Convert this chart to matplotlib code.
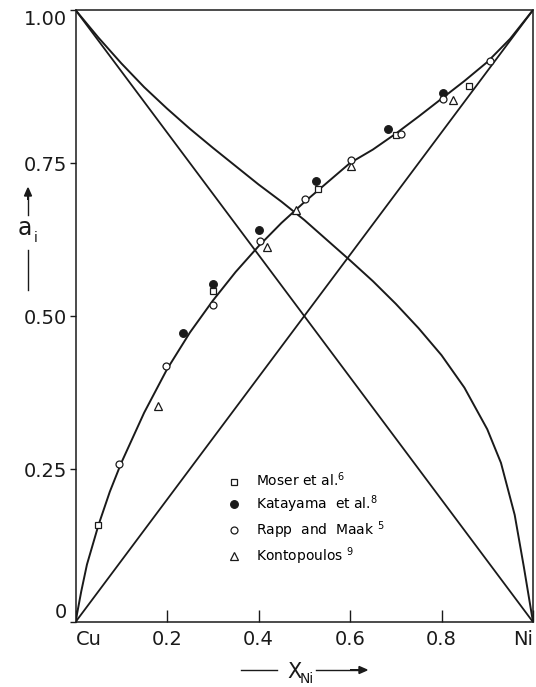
import numpy as np
import matplotlib
matplotlib.use("Agg")
import matplotlib.pyplot as plt
import matplotlib.patches as mpatches
from matplotlib.lines import Line2D

# activity curves (x_Ni, a)
ni_curve_x = [0.0, 0.0125, 0.025, 0.05, 0.075, 0.10, 0.15, 0.20, 0.25, 0.30, 0.35, 0.40,
              0.45, 0.50, 0.55, 0.60, 0.65, 0.70, 0.75, 0.80, 0.85, 0.90, 0.95, 1.0]
ni_curve_y = [0.0, 0.050, 0.094, 0.158, 0.213, 0.260, 0.342, 0.413, 0.473, 0.525, 0.572,
              0.614, 0.652, 0.686, 0.718, 0.750, 0.772, 0.798, 0.826, 0.855, 0.884, 0.915,
              0.953, 1.0]

cu_curve_x = [0.0, 0.05, 0.10, 0.15, 0.20, 0.25, 0.30, 0.35, 0.40, 0.45, 0.50, 0.55, 0.60,
              0.65, 0.70, 0.75, 0.80, 0.85, 0.90, 0.93, 0.96, 0.98, 1.0]
cu_curve_y = [1.0, 0.955, 0.913, 0.874, 0.839, 0.806, 0.775, 0.745, 0.715, 0.687, 0.657,
              0.624, 0.591, 0.557, 0.520, 0.480, 0.436, 0.383, 0.315, 0.260, 0.175, 0.090,
              0.0]

# experimental points
moser_x = [0.05, 0.30, 0.53, 0.70, 0.86]
moser_y = [0.158, 0.541, 0.707, 0.796, 0.876]

kata_x = [0.234, 0.30, 0.402, 0.525, 0.682, 0.803]
kata_y = [0.473, 0.553, 0.641, 0.721, 0.805, 0.865]

rapp_x = [0.096, 0.198, 0.30, 0.403, 0.502, 0.602, 0.711, 0.804, 0.906]
rapp_y = [0.259, 0.419, 0.518, 0.623, 0.692, 0.755, 0.798, 0.854, 0.916]

konto_x = [0.181, 0.419, 0.482, 0.603, 0.826]
konto_y = [0.353, 0.612, 0.674, 0.745, 0.853]

y_ticks = [0.0, 0.25, 0.50, 0.75, 1.00]
y_labels = ["0", "0.25", "0.50", "0.75", "1.00"]
x_ticks = [0.0, 0.2, 0.4, 0.6, 0.8, 1.0]
x_labels = ["Cu", "0.2", "0.4", "0.6", "0.8", "Ni"]

INK = "#1a1a1a"
W, H = 536, 687


def fx(px):
    return px / W


def fy(py):
    return 1 - py / H


fig = plt.figure(figsize=(5.36, 6.87), dpi=100, facecolor="white")
ax = fig.add_axes([0.1409, 0.0946, 0.8535, 0.8908])

# ideal (Raoult) lines
ax.plot([0, 1], [0, 1], color=INK, lw=1.3)
ax.plot([0, 1], [1, 0], color=INK, lw=1.3)
# measured activity curves
ax.plot(ni_curve_x, ni_curve_y, color=INK, lw=1.4)
ax.plot(cu_curve_x, cu_curve_y, color=INK, lw=1.4)

ms = 5
ax.plot(moser_x, moser_y, ls="none", marker="s", ms=ms, mfc="white", mec=INK, mew=0.9, zorder=3)
ax.plot(kata_x, kata_y, ls="none", marker="o", ms=ms + 0.5, mfc=INK, mec=INK, mew=0.9, zorder=3)
ax.plot(rapp_x, rapp_y, ls="none", marker="o", ms=ms, mfc="white", mec=INK, mew=0.9, zorder=4)
ax.plot(konto_x, konto_y, ls="none", marker="^", ms=ms + 0.5, mfc="white", mec=INK, mew=0.9, zorder=3)

ax.set_xlim(0, 1)
ax.set_ylim(0, 1)
ax.set_xticks(x_ticks)
ax.set_xticklabels(x_labels)
ax.set_yticks(y_ticks)
ax.set_yticklabels(y_labels)
ax.tick_params(axis="x", direction="in", length=9, width=1, colors=INK, labelsize=14, pad=6)
ax.tick_params(axis="y", direction="out", length=4, width=1, colors=INK, labelsize=14, pad=2)
xl = ax.get_xticklabels()
xl[0].set_ha("left")
xl[-1].set_ha("right")
yl = ax.get_yticklabels()
yl[0].set_va("bottom")
yl[-1].set_va("top")
for sp in ax.spines.values():
    sp.set_color(INK)
    sp.set_linewidth(1.1)

# legend
handles = [
    Line2D([], [], ls="none", marker="s", ms=ms, mfc="white", mec=INK, mew=0.9),
    Line2D([], [], ls="none", marker="o", ms=ms + 0.5, mfc=INK, mec=INK, mew=0.9),
    Line2D([], [], ls="none", marker="o", ms=ms, mfc="white", mec=INK, mew=0.9),
    Line2D([], [], ls="none", marker="^", ms=ms + 0.5, mfc="white", mec=INK, mew=0.9),
]
labels = ["Moser et al.$^{6}$", "Katayama  et al.$^{8}$", "Rapp  and  Maak $^{5}$",
          "Kontopoulos $^{9}$"]
ax.legend(handles, labels, loc="upper left", bbox_to_anchor=(0.3194, 0.256), frameon=False,
          fontsize=10, labelspacing=0.3, handletextpad=1.1, handlelength=1.0,
          borderaxespad=0)

# y-axis label: arrow, a_i, bar
fig.text(fx(25), fy(228), "a", fontsize=17, ha="center", va="center", color=INK)
fig.text(fx(36), fy(238), "i", fontsize=10, ha="center", va="center", color=INK)
fig.add_artist(Line2D([fx(28), fx(28)], [fy(215), fy(195)], color=INK, lw=1.0))
fig.add_artist(Line2D([fx(28), fx(28)], [fy(250), fy(290)], color=INK, lw=1.0))
fig.patches.append(mpatches.FancyArrow(
    fx(28), fy(200), 0, 12 / H, width=0, head_width=7 / W, head_length=8 / H,
    length_includes_head=True, color=INK, transform=fig.transFigure, figure=fig))

# x-axis label: bar, X_Ni, arrow
fig.text(fx(294), fy(672), "X", fontsize=15, ha="center", va="center", color=INK)
fig.text(fx(307), fy(679), "Ni", fontsize=10, ha="center", va="center", color=INK)
fig.add_artist(Line2D([fx(241), fx(277)], [fy(670), fy(670)], color=INK, lw=1.0))
fig.add_artist(Line2D([fx(316), fx(360)], [fy(670), fy(670)], color=INK, lw=1.0))
fig.patches.append(mpatches.FancyArrow(
    fx(350), fy(670), 17 / W, 0, width=0, head_width=7 / H, head_length=8 / W,
    length_includes_head=True, color=INK, transform=fig.transFigure, figure=fig))

fig.savefig("out.png", dpi=100, facecolor="white")
